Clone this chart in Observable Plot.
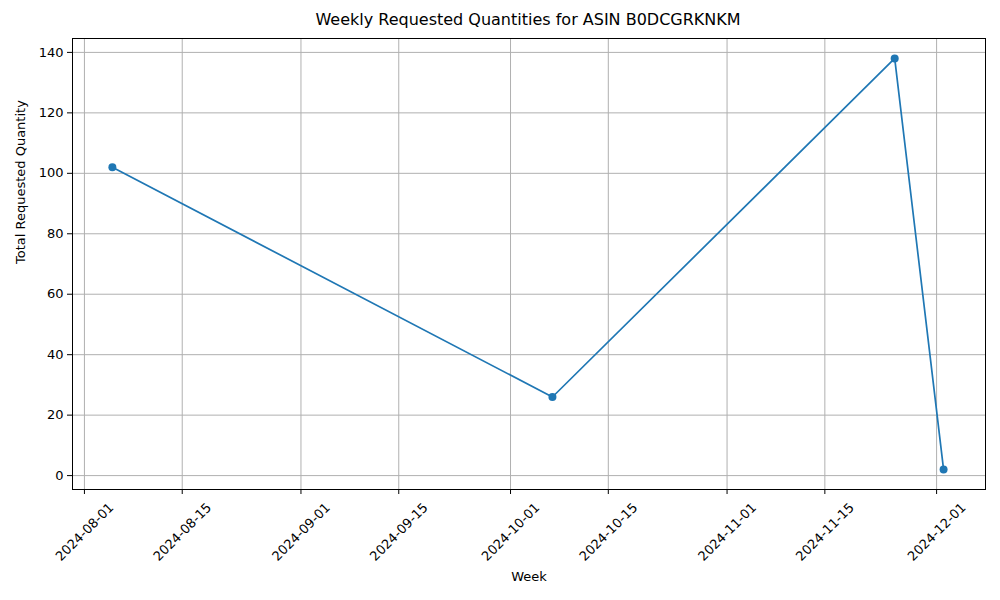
<!DOCTYPE html>
<html>
<head>
<meta charset="utf-8">
<script src="https://cdn.jsdelivr.net/npm/d3@7"></script>
<script src="https://cdn.jsdelivr.net/npm/@observablehq/plot@0.6"></script>
<style>
  body { margin: 0; background: #fff; font-family: "DejaVu Sans", sans-serif; }
  #title { height: 30px; line-height: 40px; text-align: center; font-size: 16px; padding-left: 56px; color: #000; }
</style>
</head>
<body>
<div id="title">Weekly Requested Quantities for ASIN B0DCGRKNKM</div>
<div id="chart"></div>
<script>
const weeks = ["2024-08-05", "2024-10-07", "2024-11-25", "2024-12-02"];
const quantities = [102, 26, 138, 2];
const xTicks = ["2024-08-01", "2024-08-15", "2024-09-01", "2024-09-15", "2024-10-01",
  "2024-10-15", "2024-11-01", "2024-11-15", "2024-12-01"];
const yTicks = [0, 20, 40, 60, 80, 100, 120, 140];

const rows = weeks.map((w, i) => ({ week: new Date(w + "T00:00:00Z"), qty: quantities[i] }));
const tickDates = xTicks.map(t => new Date(t + "T00:00:00Z"));
const color = "#1f77b4";

const plot = Plot.plot({
  width: 1000,
  height: 570,
  marginTop: 8,
  marginLeft: 72,
  marginRight: 15,
  marginBottom: 111,
  style: { fontFamily: "DejaVu Sans, sans-serif", fontSize: "13px", color: "#000" },
  x: {
    type: "utc",
    domain: [new Date("2024-07-30T07:00:00Z"), new Date("2024-12-08T00:00:00Z")],
    ticks: tickDates,
    tickFormat: d3.utcFormat("%Y-%m-%d"),
    label: null
  },
  y: { domain: [-4.6, 144.6], ticks: yTicks, label: null },
  marks: [
    Plot.gridX(tickDates, { stroke: "#b0b0b0", strokeOpacity: 1 }),
    Plot.gridY(yTicks, { stroke: "#b0b0b0", strokeOpacity: 1 }),
    Plot.frame({ stroke: "#000" }),
    Plot.axisX({ ticks: tickDates, tickSize: 5, text: null, label: null }),
    Plot.axisX({ ticks: tickDates, tickFormat: d3.utcFormat("%Y-%m-%d"), tickRotate: -45, tickSize: 0, dx: 27, dy: 4, label: null }),
    Plot.axisY({ ticks: yTicks, tickSize: 5, label: null }),
    Plot.line(rows, { x: "week", y: "qty", stroke: color, strokeWidth: 1.7 }),
    Plot.dot(rows, { x: "week", y: "qty", fill: color, r: 4 }),
    Plot.text(["Week"], { frameAnchor: "bottom", dy: 91, fontSize: 13 }),
    Plot.text(["Total Requested Quantity"], { frameAnchor: "left", dx: -52, rotate: -90, fontSize: 13 })
  ]
});
document.getElementById("chart").append(plot);
</script>
</body>
</html>
